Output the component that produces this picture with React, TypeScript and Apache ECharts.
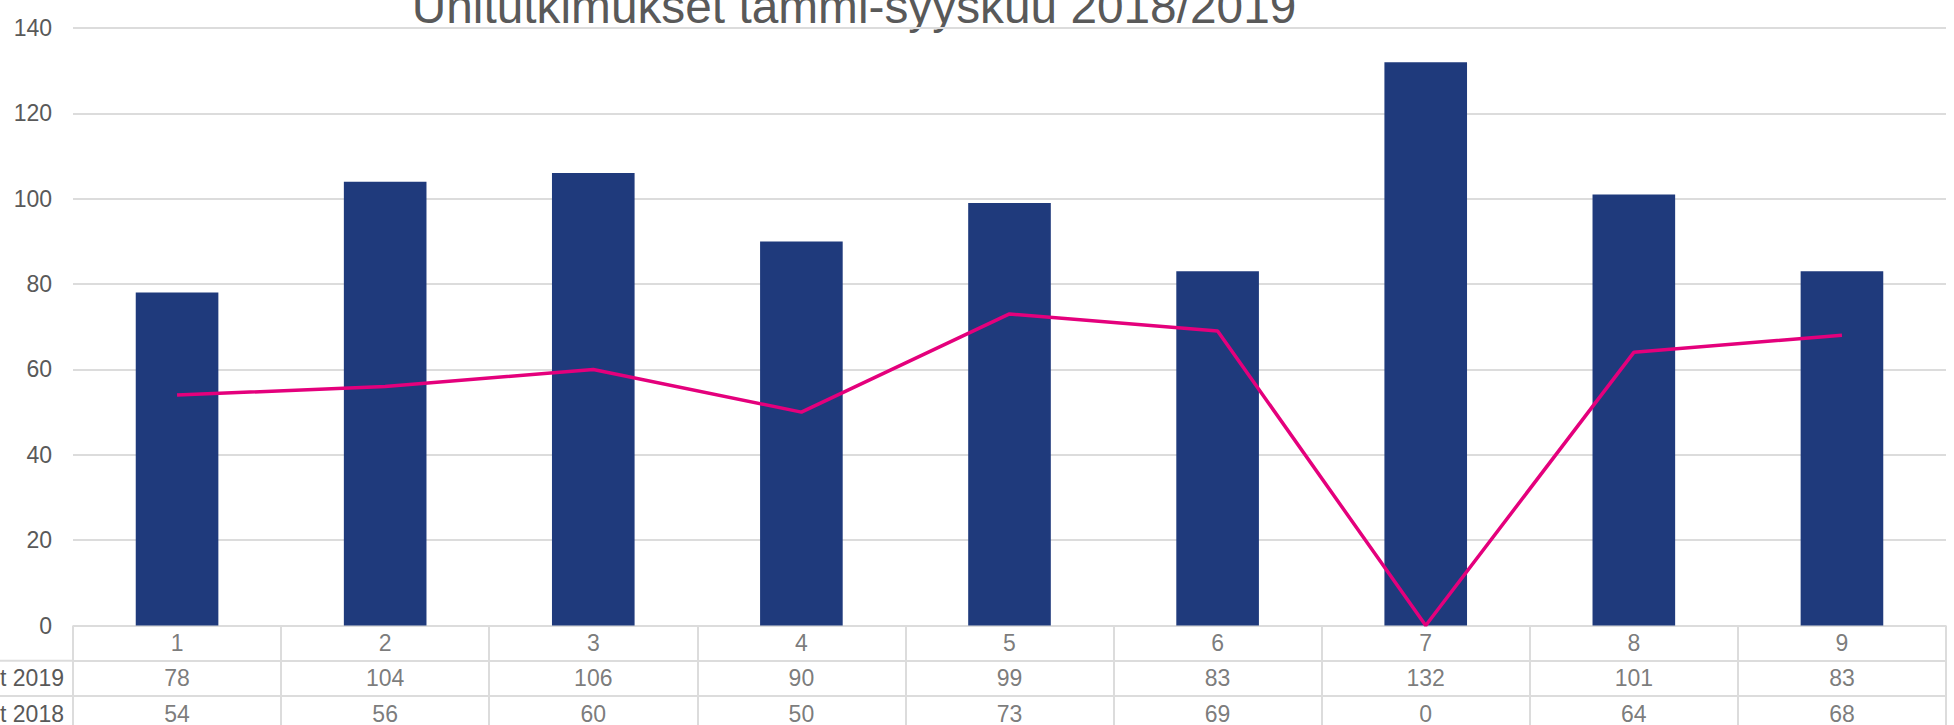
import React, { useEffect, useRef } from "react";
import * as echarts from "echarts";

const TITLE = "Unitutkimukset tammi-syyskuu 2018/2019";
const categories = ["1", "2", "3", "4", "5", "6", "7", "8", "9"];
const values2019 = [78, 104, 106, 90, 99, 83, 132, 101, 83];
const values2018 = [54, 56, 60, 50, 73, 69, 0, 64, 68];
const seriesNames = ["Unitutkimukset 2019", "Unitutkimukset 2018"];
const rowLabels = ["", seriesNames[0], seriesNames[1]];
const yMin = 0;
const yMax = 140;
const yInterval = 20;

const FONT = "'Liberation Sans', Arial, sans-serif";
const TEXT = "#595959";
const GRID = "#dcdcdc";
const BAR = "#1f3a7c";
const LINE = "#e4007c";

export default function App() {
  const ref = useRef<HTMLDivElement>(null);

  useEffect(() => {
    if (!ref.current) return;
    const chart = echarts.init(ref.current, undefined, { renderer: "svg" });

    const left = 73;
    const width = 1873;
    const top = 28;
    const plotH = 597.5;
    const rowH = 35.2;
    const tableTop = top + plotH;

    const tableData: any[] = [];
    categories.forEach((c, i) => {
      tableData.push([i, 0, c]);
      tableData.push([i, 1, String(values2019[i])]);
      tableData.push([i, 2, String(values2018[i])]);
    });

    chart.setOption({
      animation: false,
      backgroundColor: "#ffffff",
      textStyle: { fontFamily: FONT },
      grid: [
        { left, top, width, height: plotH, containLabel: false, outerBoundsMode: "none" },
        { left, top: tableTop, width, height: rowH * 3, containLabel: false, outerBoundsMode: "none" },
      ],
      xAxis: [
        {
          type: "category",
          gridIndex: 0,
          data: categories,
          axisLine: { show: false },
          axisTick: { show: false },
          axisLabel: { show: false },
          splitLine: { show: false },
        },
        {
          type: "category",
          gridIndex: 1,
          data: categories,
          axisLine: { show: false },
          axisTick: { show: false },
          axisLabel: { show: false },
          splitLine: { show: true, lineStyle: { color: GRID, width: 2 } },
        },
      ],
      yAxis: [
        {
          type: "value",
          gridIndex: 0,
          min: yMin,
          max: yMax,
          interval: yInterval,
          axisLine: { show: false },
          axisTick: { show: false },
          axisLabel: { fontSize: 23, color: TEXT, margin: 21, fontFamily: FONT },
          splitLine: { lineStyle: { color: GRID, width: 2 } },
        },
        {
          type: "category",
          gridIndex: 1,
          inverse: true,
          data: rowLabels,
          axisLine: { show: false },
          axisTick: { show: false },
          axisLabel: { fontSize: 23, color: TEXT, margin: 9, fontFamily: FONT },
          splitLine: { show: true, lineStyle: { color: GRID, width: 2 } },
        },
      ],
      graphic: [
        {
          type: "text",
          x: 411.7,
          y: 6.4,
          style: {
            text: TITLE,
            font: `47.8px ${FONT}`,
            fill: TEXT,
            verticalAlign: "middle",
            textAlign: "left",
          },
        },
        {
          type: "line",
          shape: { x1: 0, y1: tableTop + rowH, x2: left, y2: tableTop + rowH },
          style: { stroke: GRID, lineWidth: 2 },
        },
        {
          type: "line",
          shape: { x1: 0, y1: tableTop + rowH * 2, x2: left, y2: tableTop + rowH * 2 },
          style: { stroke: GRID, lineWidth: 2 },
        },
      ],
      series: [
        {
          name: seriesNames[0],
          type: "bar",
          xAxisIndex: 0,
          yAxisIndex: 0,
          data: values2019,
          barWidth: "39.7%",
          itemStyle: { color: BAR },
        },
        {
          name: seriesNames[1],
          type: "line",
          xAxisIndex: 0,
          yAxisIndex: 0,
          data: values2018,
          symbol: "none",
          lineStyle: { color: LINE, width: 3.5 },
          itemStyle: { color: LINE },
        },
        {
          type: "scatter",
          xAxisIndex: 1,
          yAxisIndex: 1,
          data: tableData,
          symbolSize: 1,
          itemStyle: { color: "rgba(0,0,0,0)" },
          label: {
            show: true,
            position: "inside",
            formatter: (p: any) => p.value[2],
            fontSize: 23,
            color: TEXT,
            fontFamily: FONT,
          },
          silent: true,
        },
      ],
    });

    return () => chart.dispose();
  }, []);

  return (
    <div
      ref={ref}
      style={{ position: "fixed", left: 0, top: 0, width: 1954, height: 725, background: "#fff" }}
    />
  );
}
